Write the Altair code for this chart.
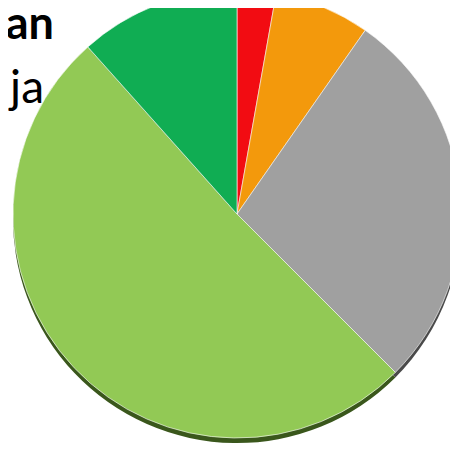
import altair as alt
import pandas as pd

# Slices, clockwise from 12 o'clock (percent of the whole)
categories = ["Merah", "Oranye", "Abu-abu", "Hijau muda", "Hijau tua"]
values = [2.8, 6.9, 27.8, 50.9, 11.6]
colors = ["#F20C12", "#F3990C", "#A0A0A0", "#92C955", "#10AD53"]
shadow_colors = ["#6E0A0A", "#6E4506", "#4A4A4A", "#3A571C", "#0A5028"]
title_parts = ["an", "ja"]

df = pd.DataFrame({"cat": categories, "value": values, "idx": list(range(len(values)))})

cx, cy, r = 229, 206, 224

base = alt.Chart(df).encode(
    theta=alt.Theta("value:Q", stack=True),
    order=alt.Order("idx:Q"),
)

shadow = base.mark_arc(radius=r, x=cx, y=cy + 5).encode(
    color=alt.Color("cat:N", scale=alt.Scale(domain=categories, range=shadow_colors), legend=None)
)

pie = base.mark_arc(radius=r, x=cx, y=cy, stroke="#ffffff", strokeWidth=1, strokeOpacity=0.6).encode(
    color=alt.Color("cat:N", scale=alt.Scale(domain=categories, range=colors), legend=None)
)

t1 = alt.Chart(pd.DataFrame({"t": [title_parts[0]]})).mark_text(
    align="right", baseline="alphabetic", font="Lato", fontSize=45, fontWeight="bold", color="#000000"
).encode(text="t:N", x=alt.value(46), y=alt.value(31))

t2 = alt.Chart(pd.DataFrame({"t": [title_parts[1]]})).mark_text(
    align="right", baseline="alphabetic", font="Lato", fontSize=46, fontWeight="normal", color="#000000"
).encode(text="t:N", x=alt.value(36), y=alt.value(95))

chart = alt.layer(shadow, pie, t1, t2).resolve_scale(color="independent").properties(
    width=442, height=438, autosize="none", padding=0
).configure_view(stroke=None)

chart.save("out.html", embed_options={"renderer": "svg", "actions": False})
